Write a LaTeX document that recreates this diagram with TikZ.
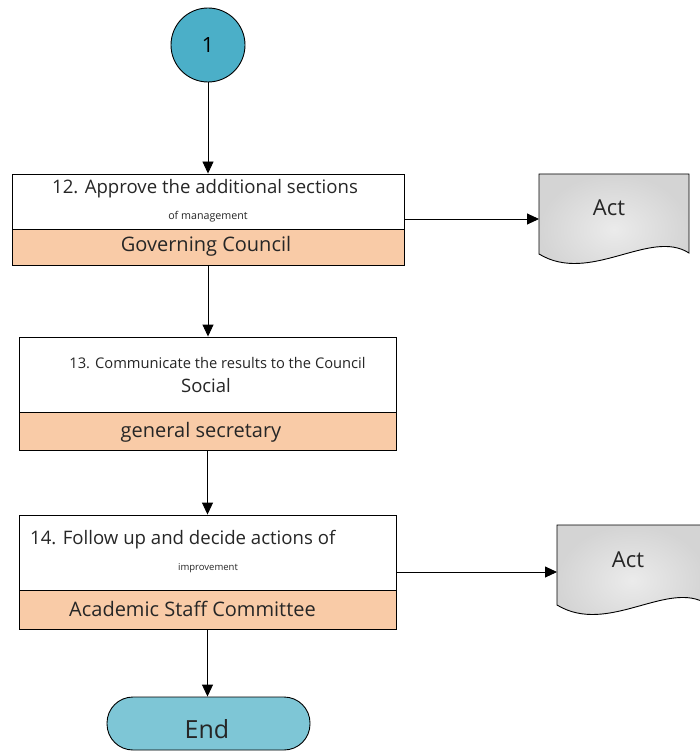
\documentclass[tikz,border=0pt]{standalone}
\usepackage{fontspec}
\setmainfont{Open Sans}
\usetikzlibrary{arrows.meta}
\definecolor{circfill}{HTML}{4BAFC8}
\definecolor{endfill}{HTML}{7EC6D6}
\definecolor{rolefill}{HTML}{F9CBA7}
\definecolor{docin}{HTML}{EBEBEB}
\definecolor{docout}{HTML}{D4D4D4}
\tikzset{
  box/.style={draw=black, line width=0.9pt, fill=white, inner sep=0pt},
  rolebox/.style={draw=black, line width=0.9pt, fill=rolefill, inner sep=0pt},
  conn/.style={draw=black, line width=0.9pt, -{Triangle[length=12pt,width=11pt]}},
  doc/.style={draw=black, line width=0.9pt, inner color=docin, outer color=docout},
  txt/.style={inner sep=0pt, text=black!85},
}
\begin{document}
\begin{tikzpicture}[x=1pt,y=-1pt]
\useasboundingbox (0,0) rectangle (700,751);
% start circle
\node[circle, draw=black, line width=0.9pt, fill=circfill, minimum size=74pt, inner sep=0pt, font=\fontsize{21}{24}\selectfont] (start) at (208,45) {1};
% box 1
\node[box, minimum width=392pt, minimum height=55pt] (b1) at (208,201.5) {};
\node[rolebox, minimum width=392pt, minimum height=36pt] (r1) at (208,247) {};
\node[txt, font=\fontsize{18.6}{21}\selectfont] (t1a) at (205,189) {12. Approve the additional sections};
\node[txt, font=\fontsize{10.7}{12}\selectfont] (t1b) at (208,217) {of management};
\node[txt, font=\fontsize{20}{23}\selectfont] (t1c) at (206,246) {Governing Council};
% box 2
\node[box, minimum width=377pt, minimum height=75pt] (b2) at (207.5,374.5) {};
\node[rolebox, minimum width=377pt, minimum height=38pt] (r2) at (207.5,431) {};
\node[txt, font=\fontsize{14.7}{17}\selectfont] (t2a) at (217.5,363) {13. Communicate the results to the Council};
\node[txt, font=\fontsize{18.5}{21}\selectfont] (t2b) at (206,386) {Social};
\node[txt, font=\fontsize{20}{23}\selectfont] (t2c) at (201,432) {general secretary};
% box 3
\node[box, minimum width=377pt, minimum height=75pt] (b3) at (207.5,552.5) {};
\node[rolebox, minimum width=377pt, minimum height=39pt] (r3) at (207.5,609.5) {};
\node[txt, font=\fontsize{18.6}{21}\selectfont, anchor=west] (t3a) at (30,540) {14. Follow up and decide actions of};
\node[txt, font=\fontsize{9.5}{11}\selectfont] (t3b) at (208,568) {improvement};
\node[txt, font=\fontsize{20}{23}\selectfont, anchor=west] (t3c) at (69,609) {Academic Staff Committee};
% end
\node[draw=black, line width=0.9pt, fill=endfill, rounded corners=26pt, minimum width=203pt, minimum height=53pt, inner sep=0pt] (end) at (208.5,723.5) {};
\node[txt, font=\fontsize{25}{28}\selectfont] (endt) at (207,729) {End};
% documents
\path[doc] (539,174) -- (689,174) -- (689,253) .. controls (650,228) and (590,285) .. (539,254) -- cycle;
\node[txt, font=\fontsize{22}{25}\selectfont] (act1) at (609,208) {Act};
\coordinate (d1) at (539,219);
\path[doc] (557,525) -- (707,525) -- (707,604) .. controls (668,579) and (608,636) .. (557,605) -- cycle;
\node[txt, font=\fontsize{22}{25}\selectfont] (act2) at (628,560) {Act};
\coordinate (d2) at (557,572);
% connectors
\draw[conn] (start.south) -- (b1.north);
\draw[conn] (r1.south) -- (r1.south |- b2.north);
\draw[conn] (r2.south) -- (r2.south |- b3.north);
\draw[conn] (r3.south) -- (r3.south |- end.north);
\draw[conn] (b1.east |- d1) -- (d1);
\draw[conn] (b3.east |- d2) -- (d2);
\end{tikzpicture}
\end{document}
